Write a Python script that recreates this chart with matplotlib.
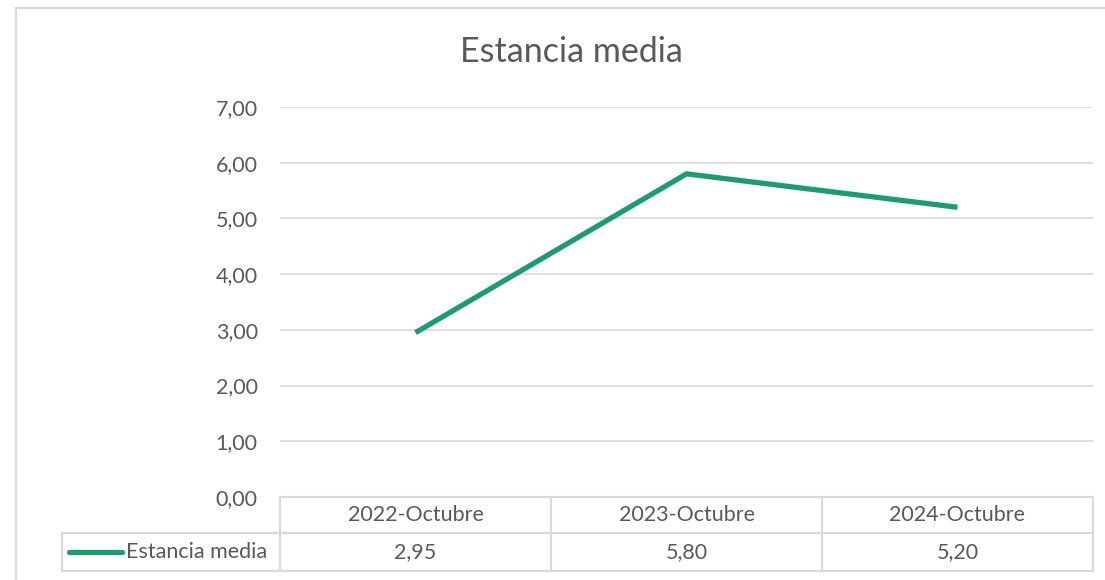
import matplotlib

matplotlib.use("Agg")
import matplotlib.pyplot as plt
from matplotlib.lines import Line2D
from matplotlib.patches import Rectangle

categories = ["2022-Octubre", "2023-Octubre", "2024-Octubre"]
values = [2.95, 5.80, 5.20]
series_name = "Estancia media"
title = "Estancia media"
yticks = [0, 1, 2, 3, 4, 5, 6, 7]

W, H = 1105, 580
GREEN = "#1f9b74"
GRID = "#d9d9d9"
TEXT = "#595959"
FS = 15.5

plt.rcParams["font.family"] = ["Lato", "DejaVu Sans"]


def fx(px):
    return px / W


def fy(py):
    return 1 - py / H


fig = plt.figure(figsize=(W / 100, H / 100), dpi=100)

# plot area in pixel terms
left, right, top, bottom = 280, 1093, 107, 497
ax = fig.add_axes([fx(left), fy(bottom), fx(right - left), fy(top) - fy(bottom)])
x = list(range(len(categories)))
ax.plot(x, values, color=GREEN, lw=3.8, solid_capstyle="butt")
ax.set_xlim(-0.5, len(categories) - 0.5)
ax.set_ylim(0, 7)
ax.set_yticks(yticks)
ax.set_yticklabels([f"{v:.2f}".replace(".", ",") for v in yticks],
                   fontsize=FS, color=TEXT)
ax.tick_params(axis="y", length=0, pad=16)
ax.set_xticks([])
ax.grid(axis="y", color=GRID, lw=1.2)
ax.set_axisbelow(True)
for s in ax.spines.values():
    s.set_visible(False)

fig.text(fx(571), fy(52), title, ha="center", va="center", fontsize=24.5, color=TEXT)

# outer chart border
fig.add_artist(Rectangle((fx(16), fy(590)), fx(1100), fy(8) - fy(590),
                         transform=fig.transFigure, fill=False, ec=GRID, lw=1.5))

# data table below the plot
row1, row2, row3 = 497, 533, 571
col_w = (right - left) / len(categories)
cols = [left + i * col_w for i in range(len(categories) + 1)]


def hline(y, x0, x1):
    fig.add_artist(Line2D([fx(x0), fx(x1)], [fy(y), fy(y)], color=GRID, lw=1.5))


def vline(xp, y0, y1):
    fig.add_artist(Line2D([fx(xp), fx(xp)], [fy(y0), fy(y1)], color=GRID, lw=1.5))


hline(row1, left, right)
hline(row2, 62, right)
hline(row3, 62, right)
for c in cols:
    vline(c, row1, row3)
vline(62, row2, row3)

for i, (cat, val) in enumerate(zip(categories, values)):
    cx = left + (i + 0.5) * col_w
    fig.text(fx(cx), fy((row1 + row2) / 2), cat, ha="center", va="center",
             fontsize=FS, color=TEXT)
    fig.text(fx(cx), fy((row2 + row3) / 2), f"{val:.2f}".replace(".", ","),
             ha="center", va="center", fontsize=FS, color=TEXT)

ymid = (row2 + row3) / 2
fig.add_artist(Line2D([fx(69), fx(122)], [fy(ymid), fy(ymid)], color=GREEN,
                      lw=3.8, solid_capstyle="round"))
fig.text(fx(126), fy(ymid), series_name, ha="left", va="center",
         fontsize=FS, color=TEXT)

fig.savefig("out.png", dpi=100, facecolor="white")
